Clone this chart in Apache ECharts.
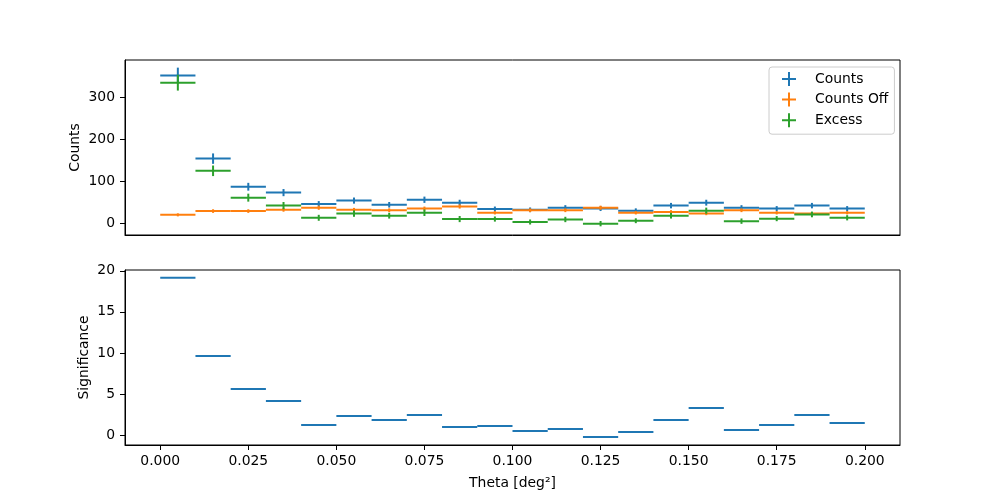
<!DOCTYPE html>
<html>
<head>
<meta charset="utf-8">
<script src="https://cdn.jsdelivr.net/npm/echarts@6/dist/echarts.min.js"></script>
<style>
html,body{margin:0;padding:0;background:#fff;}
#chart{width:1000px;height:500px;}
</style>
</head>
<body>
<div id="chart"></div>
<script>
// Bin centres (theta^2, deg^2) and half bin width
const thetaCenters = [0.005,0.015,0.025,0.035,0.045,0.055,0.065,0.075,0.085,0.095,
                      0.105,0.115,0.125,0.135,0.145,0.155,0.165,0.175,0.185,0.195];
const binHalfWidth = [0.005,0.005,0.005,0.005,0.005,0.005,0.005,0.005,0.005,0.005,
                      0.005,0.005,0.005,0.005,0.005,0.005,0.005,0.005,0.005,0.005];

const counts    = [352,154,87,73,46,54,44,56,49,34,32,37,35,30,42,49,37,35,42,35];
const countsErr = [18.8,12.4,9.3,8.5,6.8,7.3,6.6,7.5,7.0,5.8,5.6,6.1,5.9,5.5,6.5,7.0,6.1,5.9,6.5,5.9];

const countsOff    = [20,29,29,32,37,32,31,35,40,25,31,31,37,25,27,23,31,25,23,25];
const countsOffErr = [3.6,4.3,4.3,4.5,4.9,4.6,4.5,4.7,5.0,4.0,4.5,4.5,4.9,4.0,4.2,3.8,4.5,4.0,3.8,4.0];

const excess    = [335,125,61,42,13,23,18,25,10,10,3,9,-1,6,18,30,5,11,21,13];
const excessErr = [18.9,12.6,9.5,8.7,7.1,7.6,6.9,7.8,7.3,6.1,6.0,6.4,6.3,5.8,6.8,7.2,6.4,6.1,6.8,6.2];

const significance = [19.15,9.63,5.61,4.15,1.22,2.32,1.83,2.44,0.98,1.10,
                      0.49,0.73,-0.24,0.37,1.83,3.29,0.61,1.22,2.44,1.46];

const xTicks = [0, 0.025, 0.05, 0.075, 0.1, 0.125, 0.15, 0.175, 0.2];
const countsTicks = [0, 100, 200, 300];
const sigTicks = [0, 5, 10, 15, 20];

const C_BLUE = '#1f77b4', C_ORANGE = '#ff7f0e', C_GREEN = '#2ca02c';
const FONT = 'DejaVu Sans';
const FS = 13.9;

function build(vals, errs){
  return thetaCenters.map((x,i)=>[x, vals[i], binHalfWidth[i], errs ? errs[i] : 0]);
}

function errRender(color){
  return function(params, api){
    const x = api.value(0), y = api.value(1), hw = api.value(2), e = api.value(3);
    const a = api.coord([x-hw, y]), b = api.coord([x+hw, y]);
    const children = [{
      type:'line', shape:{x1:a[0], y1:a[1], x2:b[0], y2:b[1]},
      style:{stroke:color, lineWidth:2}
    }];
    if (e > 0){
      const t = api.coord([x, y+e]), d = api.coord([x, y-e]);
      children.push({
        type:'line', shape:{x1:t[0], y1:t[1], x2:d[0], y2:d[1]},
        style:{stroke:color, lineWidth:2}
      });
    }
    return {type:'group', children};
  };
}

const PLUS = 'path://M6,0 L8,0 L8,6 L14,6 L14,8 L8,8 L8,14 L6,14 L6,8 L0,8 L0,6 L6,6 Z';

const axisCommon = {
  axisLine:{show:true, onZero:false, lineStyle:{color:'#000', width:1}},
  axisTick:{show:true, inside:false, length:5, lineStyle:{color:'#000', width:1}},
  splitLine:{show:false},
  axisLabel:{color:'#000', fontFamily:FONT, fontSize:FS}
};

const chart = echarts.init(document.getElementById('chart'), null, {renderer:'canvas'});
chart.setOption({
  animation:false,
  backgroundColor:'#fff',
  textStyle:{fontFamily:FONT},
  grid:[
    {left:125, right:100, top:60, height:175, show:true, borderColor:'#000', borderWidth:1, backgroundColor:'transparent'},
    {left:125, right:100, top:270, height:175, show:true, borderColor:'#000', borderWidth:1, backgroundColor:'transparent'}
  ],
  legend:{
    orient:'vertical', left:769, top:67,
    padding:[5,6,7,13], itemGap:6.6,
    itemWidth:14, itemHeight:14,
    backgroundColor:'#fff', borderColor:'#cccccc', borderWidth:1, borderRadius:3,
    textStyle:{fontFamily:FONT, fontSize:FS, color:'#000', padding:[0,0,0,14]},
    data:[
      {name:'Counts', icon:PLUS, itemStyle:{color:C_BLUE}},
      {name:'Counts Off', icon:PLUS, itemStyle:{color:C_ORANGE}},
      {name:'Excess', icon:PLUS, itemStyle:{color:C_GREEN}}
    ]
  },
  xAxis:[
    Object.assign({}, axisCommon, {
      type:'value', gridIndex:0, min:-0.01, max:0.21,
      axisTick:{show:false}, axisLabel:{show:false}, splitLine:{show:false},
      axisLine:{show:true, onZero:false, lineStyle:{color:'#000'}}
    }),
    Object.assign({}, axisCommon, {
      type:'value', gridIndex:1, min:-0.01, max:0.21,
      name:'Theta [deg²]', nameLocation:'middle', nameGap:31, nameMoveOverlap:false,
      nameTextStyle:{fontFamily:FONT, fontSize:FS, color:'#000'},
      axisTick:{show:true, length:5, customValues:xTicks, lineStyle:{color:'#000'}},
      axisLabel:{color:'#000', fontFamily:FONT, fontSize:FS, margin:9, customValues:xTicks,
                 formatter:v=>v.toFixed(3)}
    })
  ],
  yAxis:[
    Object.assign({}, axisCommon, {
      type:'value', gridIndex:0, min:-28, max:389,
      name:'Counts', nameLocation:'middle', nameGap:43, nameMoveOverlap:false,
      nameTextStyle:{fontFamily:FONT, fontSize:FS, color:'#000'},
      axisTick:{show:true, length:5, customValues:countsTicks, lineStyle:{color:'#000'}},
      axisLabel:{color:'#000', fontFamily:FONT, fontSize:FS, margin:10, customValues:countsTicks}
    }),
    Object.assign({}, axisCommon, {
      type:'value', gridIndex:1, min:-1.22, max:20.1,
      name:'Significance', nameLocation:'middle', nameGap:33.5, nameMoveOverlap:false,
      nameTextStyle:{fontFamily:FONT, fontSize:FS, color:'#000'},
      axisTick:{show:true, length:5, customValues:sigTicks, lineStyle:{color:'#000'}},
      axisLabel:{color:'#000', fontFamily:FONT, fontSize:FS, margin:10, customValues:sigTicks}
    })
  ],
  series:[
    {name:'Counts', type:'custom', xAxisIndex:0, yAxisIndex:0, renderItem:errRender(C_BLUE),
     itemStyle:{color:C_BLUE}, data:build(counts, countsErr), encode:{x:0, y:1}, clip:true, z:2},
    {name:'Counts Off', type:'custom', xAxisIndex:0, yAxisIndex:0, renderItem:errRender(C_ORANGE),
     itemStyle:{color:C_ORANGE}, data:build(countsOff, countsOffErr), encode:{x:0, y:1}, clip:true, z:3},
    {name:'Excess', type:'custom', xAxisIndex:0, yAxisIndex:0, renderItem:errRender(C_GREEN),
     itemStyle:{color:C_GREEN}, data:build(excess, excessErr), encode:{x:0, y:1}, clip:true, z:4},
    {name:'Significance', type:'custom', xAxisIndex:1, yAxisIndex:1, renderItem:errRender(C_BLUE),
     itemStyle:{color:C_BLUE}, data:build(significance, null), encode:{x:0, y:1}, clip:true, z:2}
  ]
});
</script>
</body>
</html>
